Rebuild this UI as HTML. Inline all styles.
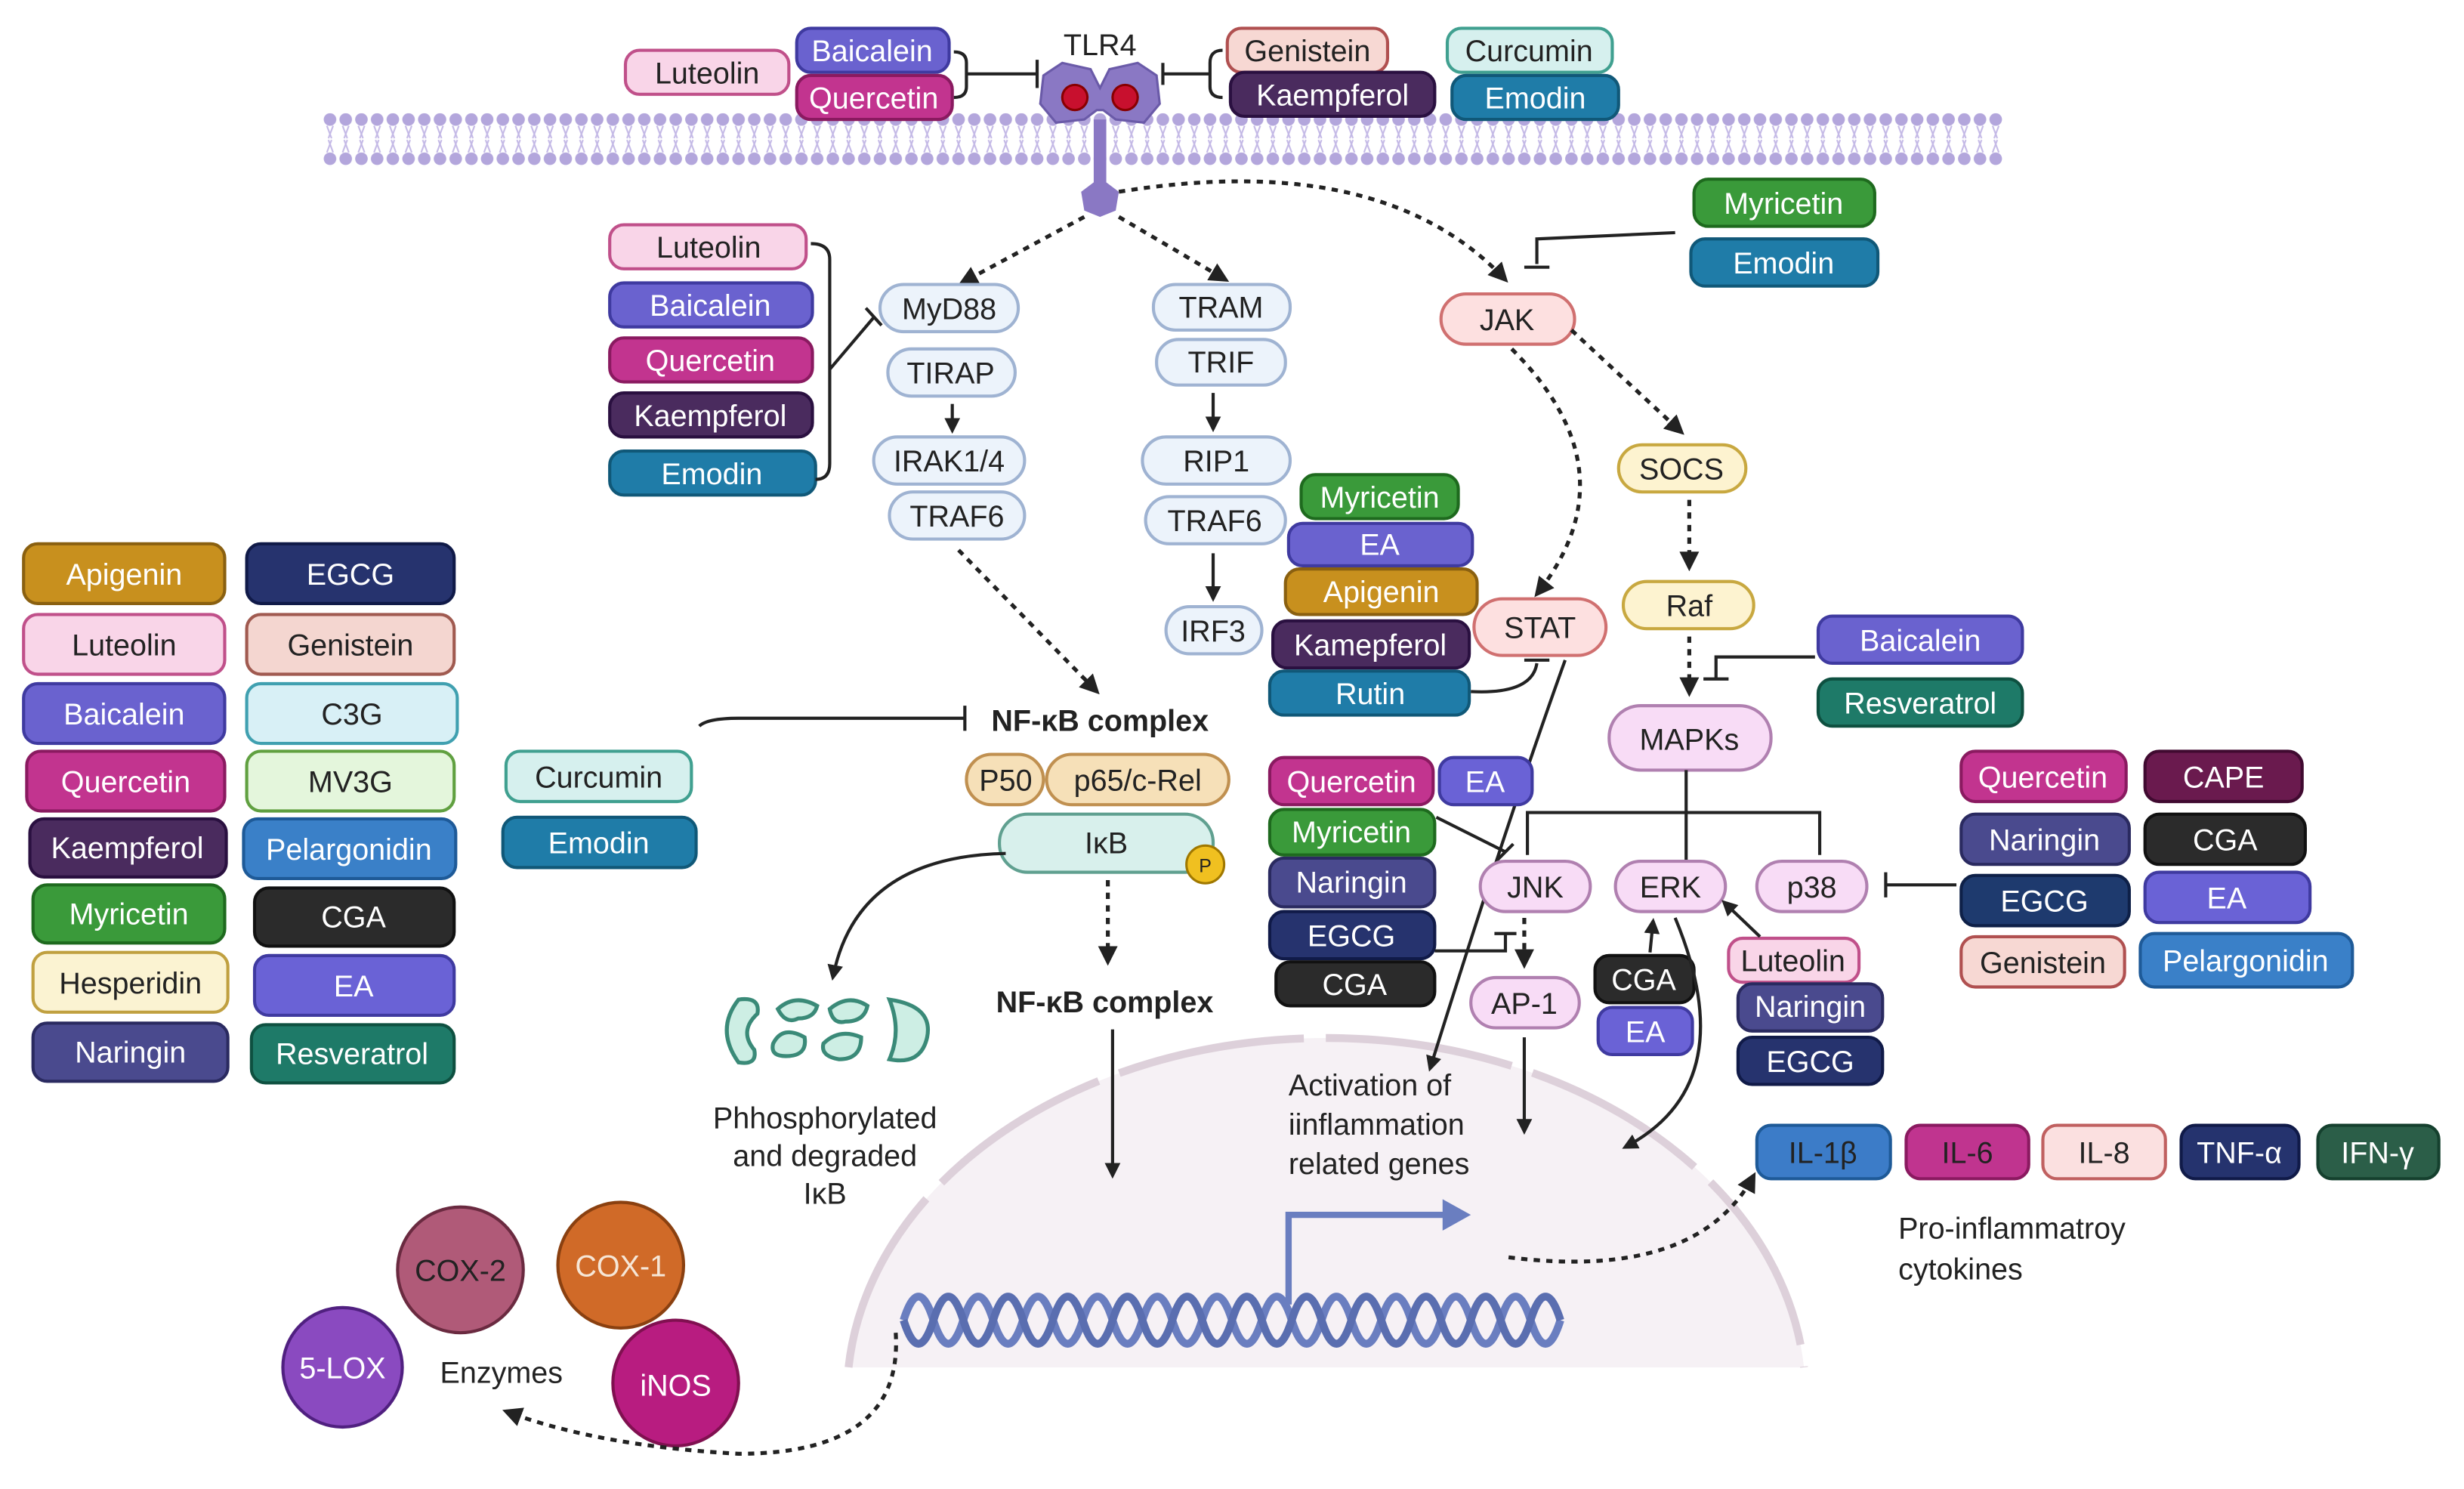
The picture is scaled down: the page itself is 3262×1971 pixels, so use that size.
<!DOCTYPE html>
<html><head><meta charset="utf-8"><style>
html,body{margin:0;padding:0;background:#fff;}
svg{display:block;}
text{font-family:"Liberation Sans",sans-serif;text-anchor:middle;}
.w{fill:#fff;font-size:19px;}
.d{fill:#222;font-size:19px;}
.t{fill:#222;font-size:19px;text-anchor:start;}
.ln{stroke:#222;stroke-width:2;fill:none;}
.ds{stroke:#222;stroke-width:2.5;fill:none;stroke-dasharray:4 4;}
</style></head><body>
<svg width="3262" height="1971" viewBox="0 0 1568 947.4" xmlns="http://www.w3.org/2000/svg">
<defs>
<marker id="ah" viewBox="0 0 10 10" refX="8" refY="5" markerWidth="5" markerHeight="5" orient="auto"><path d="M0 0L10 5L0 10z" fill="#222"/></marker>
<pattern id="mem" x="205" y="72" width="10" height="34" patternUnits="userSpaceOnUse">
<circle cx="5" cy="4" r="4" fill="#b3a6dc"/><circle cx="5" cy="29" r="4" fill="#b3a6dc"/>
<path d="M3 8L6 16M7 8L4 16M3 25L6 17M7 25L4 17" stroke="#c4b9e6" stroke-width="1"/>
</pattern>
</defs>
<rect width="1568" height="947.4" fill="#fff"/>

<!-- nucleus -->
<path d="M540 870 A305 228 0 0 1 1148 870 Z" fill="#f6f1f5"/>
<path d="M540 870 A305 228 0 0 1 1148 870" fill="none" stroke="#ddd0da" stroke-width="5" stroke-dasharray="120 14"/>

<!-- membrane -->
<rect x="205" y="72" width="1070" height="34" fill="url(#mem)"/>

<!-- TLR4 receptor -->
<text x="700" y="35" class="d" style="font-size:19px">TLR4</text>
<path d="M664 48 L676 40 L694 44 L700 56 L706 44 L724 40 L736 48 L738 66 L728 78 L710 76 L702 70 L698 70 L690 76 L672 78 L662 66 Z" fill="#8a78c4" stroke="#6a5aa8" stroke-width="1.5"/>
<circle cx="684" cy="62" r="8" fill="#c8102e" stroke="#800" stroke-width="1.5"/>
<circle cx="716" cy="62" r="8" fill="#c8102e" stroke="#800" stroke-width="1.5"/>
<rect x="696" y="76" width="8" height="44" fill="#8a78c4"/>
<path d="M688 122 L696 116 L704 116 L712 122 L710 134 L700 138 L690 134 Z" fill="#8a78c4"/>

<!-- top inhibitors -->
<rect x="398" y="32" width="104" height="28" rx="9" fill="#f9d5e8" stroke="#c0508a" stroke-width="2"/><text x="450" y="53" class="d">Luteolin</text>
<rect x="507" y="18" width="97" height="28" rx="9" fill="#6a62cf" stroke="#3f3aa0" stroke-width="2"/><text x="555" y="39" class="w">Baicalein</text>
<rect x="507" y="48" width="99" height="28" rx="9" fill="#c2348f" stroke="#8a1a60" stroke-width="2"/><text x="556" y="69" class="w">Quercetin</text>
<path class="ln" d="M607 33 Q615 33 615 40 L615 55 Q615 62 607 62 M615 47 L660 47 M660 38 L660 56"/>
<path class="ln" d="M740 40 L740 54 M740 47 L770 47 M778 32 Q770 32 770 40 L770 55 Q770 62 778 62"/>
<rect x="781" y="18" width="102" height="28" rx="9" fill="#f7d8d3" stroke="#b05050" stroke-width="2"/><text x="832" y="39" class="d">Genistein</text>
<rect x="783" y="46" width="130" height="28" rx="9" fill="#4a2b5e" stroke="#2a1040" stroke-width="2"/><text x="848" y="67" class="w">Kaempferol</text>
<rect x="921" y="18" width="105" height="28" rx="9" fill="#d6f0ee" stroke="#40a090" stroke-width="2"/><text x="973" y="39" class="d">Curcumin</text>
<rect x="924" y="48" width="106" height="28" rx="9" fill="#1f7ca8" stroke="#105878" stroke-width="2"/><text x="977" y="69" class="w">Emodin</text>

<!-- dashed from receptor -->
<path class="ds" d="M690 138 L612 180" marker-end="url(#ah)"/>
<path class="ds" d="M712 138 L780 178" marker-end="url(#ah)"/>
<path class="ds" d="M712 122 Q880 95 958 178" marker-end="url(#ah)"/>

<!-- MyD88 inhibitors -->
<rect x="388" y="143" width="125" height="28" rx="9" fill="#f9d5e8" stroke="#c0508a" stroke-width="2"/><text x="451" y="164" class="d">Luteolin</text>
<rect x="388" y="180" width="129" height="28" rx="9" fill="#6a62cf" stroke="#3f3aa0" stroke-width="2"/><text x="452" y="201" class="w">Baicalein</text>
<rect x="388" y="215" width="129" height="28" rx="9" fill="#c2348f" stroke="#8a1a60" stroke-width="2"/><text x="452" y="236" class="w">Quercetin</text>
<rect x="388" y="250" width="129" height="28" rx="9" fill="#4a2b5e" stroke="#2a1040" stroke-width="2"/><text x="452" y="271" class="w">Kaempferol</text>
<rect x="388" y="287" width="131" height="28" rx="9" fill="#1f7ca8" stroke="#105878" stroke-width="2"/><text x="453" y="308" class="w">Emodin</text>
<path class="ln" d="M516 155 Q528 155 528 165 L528 295 Q528 305 519 305 M528 235 L556 202 M551 196 L561 207"/>

<!-- MyD88 chain -->
<g fill="#ecf3fb" stroke="#9fb3d2" stroke-width="2">
<rect x="560" y="181" width="88" height="30" rx="15"/><rect x="565" y="222" width="81" height="30" rx="15"/>
<rect x="556" y="278" width="96" height="30" rx="15"/><rect x="566" y="313" width="86" height="30" rx="15"/>
<rect x="734" y="181" width="87" height="29" rx="14"/><rect x="736" y="216" width="82" height="29" rx="14"/>
<rect x="727" y="278" width="94" height="30" rx="15"/><rect x="729" y="316" width="89" height="30" rx="15"/>
<rect x="742" y="386" width="61" height="30" rx="15"/>
</g>
<text x="604" y="203" class="d">MyD88</text><text x="605" y="244" class="d">TIRAP</text>
<text x="604" y="300" class="d">IRAK1/4</text><text x="609" y="335" class="d">TRAF6</text>
<text x="777" y="202" class="d">TRAM</text><text x="777" y="237" class="d">TRIF</text>
<text x="774" y="300" class="d">RIP1</text><text x="773" y="338" class="d">TRAF6</text>
<text x="772" y="408" class="d">IRF3</text>
<path class="ln" d="M606 257 L606 274" marker-end="url(#ah)"/>
<path class="ln" d="M772 250 L772 273" marker-end="url(#ah)"/>
<path class="ln" d="M772 352 L772 381" marker-end="url(#ah)"/>
<path class="ds" d="M610 350 L698 440" marker-end="url(#ah)"/>

<!-- JAK branch -->
<rect x="1078" y="114" width="115" height="30" rx="9" fill="#3a9a3a" stroke="#1e6a1e" stroke-width="2"/><text x="1135" y="136" class="w">Myricetin</text>
<rect x="1076" y="152" width="119" height="30" rx="9" fill="#1f7ca8" stroke="#105878" stroke-width="2"/><text x="1135" y="174" class="w">Emodin</text>
<path class="ln" d="M1066 148 L978 152 L978 168 M970 170 L986 170"/>
<rect x="917" y="187" width="85" height="32" rx="16" fill="#fde0e0" stroke="#d07070" stroke-width="2"/><text x="959" y="210" class="d">JAK</text>
<path class="ds" d="M1000 210 L1070 275" marker-end="url(#ah)"/>
<rect x="1030" y="283" width="81" height="30" rx="15" fill="#fdf3d0" stroke="#c8a840" stroke-width="2"/><text x="1070" y="305" class="d">SOCS</text>
<path class="ds" d="M1075 318 L1075 361" marker-end="url(#ah)"/>
<rect x="1033" y="370" width="83" height="30" rx="15" fill="#fdf3d0" stroke="#c8a840" stroke-width="2"/><text x="1075" y="392" class="d">Raf</text>
<path class="ds" d="M1075 405 L1075 441" marker-end="url(#ah)"/>
<rect x="1157" y="392" width="130" height="30" rx="9" fill="#6a62cf" stroke="#3f3aa0" stroke-width="2"/><text x="1222" y="414" class="w">Baicalein</text>
<rect x="1157" y="432" width="130" height="30" rx="9" fill="#1e7a68" stroke="#0e5040" stroke-width="2"/><text x="1222" y="454" class="w">Resveratrol</text>
<path class="ln" d="M1155 418 L1092 418 L1092 432 M1084 432 L1100 432"/>
<rect x="1024" y="449" width="103" height="41" rx="20" fill="#f8dcf6" stroke="#b080b0" stroke-width="2"/><text x="1075" y="477" class="d">MAPKs</text>

<!-- JAK->STAT -->
<path class="ds" d="M962 222 Q1040 300 978 378" marker-end="url(#ah)"/>
<rect x="828" y="302" width="100" height="28" rx="9" fill="#3a9a3a" stroke="#1e6a1e" stroke-width="2"/><text x="878" y="323" class="w">Myricetin</text>
<rect x="820" y="333" width="117" height="27" rx="9" fill="#6a62cf" stroke="#3f3aa0" stroke-width="2"/><text x="878" y="353" class="w">EA</text>
<rect x="818" y="362" width="122" height="29" rx="9" fill="#c8901e" stroke="#8a6010" stroke-width="2"/><text x="879" y="383" class="w">Apigenin</text>
<rect x="810" y="395" width="125" height="30" rx="9" fill="#4a2b5e" stroke="#2a1040" stroke-width="2"/><text x="872" y="417" class="w">Kamepferol</text>
<rect x="808" y="427" width="127" height="28" rx="9" fill="#1f7ca8" stroke="#105878" stroke-width="2"/><text x="872" y="448" class="w">Rutin</text>
<rect x="938" y="381" width="84" height="36" rx="18" fill="#fde0e0" stroke="#d07070" stroke-width="2"/><text x="980" y="406" class="d">STAT</text>
<path class="ln" d="M936 440 Q975 442 978 422 M970 420 L986 420"/>
<path d="M996 420 Q960 520 910 680" stroke="#222" stroke-width="2" fill="none" marker-end="url(#ah)"/>

<!-- NF-kB -->
<text x="700" y="465" style="font-size:19px;font-weight:bold;fill:#222">NF-κB complex</text>
<path class="ln" d="M445 462 Q450 457 470 457 L614 457 M614 449 L614 465"/>
<rect x="322" y="478" width="118" height="32" rx="9" fill="#d6f0ee" stroke="#40a090" stroke-width="2"/><text x="381" y="501" class="d">Curcumin</text>
<rect x="320" y="520" width="123" height="32" rx="9" fill="#1f7ca8" stroke="#105878" stroke-width="2"/><text x="381" y="543" class="w">Emodin</text>
<rect x="615" y="480" width="49" height="32" rx="16" fill="#f6e0b8" stroke="#c09050" stroke-width="2"/><text x="640" y="503" class="d">P50</text>
<rect x="666" y="480" width="116" height="32" rx="16" fill="#f6e0b8" stroke="#c09050" stroke-width="2"/><text x="724" y="503" class="d">p65/c-Rel</text>
<rect x="636" y="518" width="136" height="37" rx="18" fill="#d8f0ec" stroke="#60a090" stroke-width="2"/><text x="704" y="543" class="d">IκB</text>
<circle cx="767" cy="550" r="12" fill="#f0c020" stroke="#a07800" stroke-width="1.5"/><text x="767" y="555" style="font-size:12px;fill:#222">P</text>
<path class="ds" d="M705 560 L705 612" marker-end="url(#ah)"/>
<text x="703" y="644" style="font-size:19px;font-weight:bold;fill:#222">NF-κB complex</text>
<path class="ln" d="M708 655 L708 748" marker-end="url(#ah)"/>
<path class="ln" d="M640 543 Q545 545 530 622" marker-end="url(#ah)"/>
<g fill="#cdeee4" stroke="#3a8a78" stroke-width="2.5">
<path d="M470 636 Q455 655 470 676 Q482 678 480 668 Q470 656 482 645 Q484 634 470 636 Z"/>
<path d="M495 642 Q506 632 520 640 Q518 648 508 648 Q500 652 495 642 Z M492 664 Q498 652 512 660 Q514 672 500 672 Q490 672 492 664 Z"/>
<path d="M528 642 Q540 632 552 640 Q550 650 538 650 Q530 652 528 642 Z M524 664 Q534 654 548 660 Q548 674 534 674 Q522 672 524 664 Z"/>
<path d="M566 636 Q594 640 590 660 Q586 678 566 674 Q574 656 566 636 Z"/>
</g>
<text x="525" y="718" class="d">Phhosphorylated</text>
<text x="525" y="742" class="d">and degraded</text>
<text x="525" y="766" class="d">IκB</text>

<!-- legend -->
<g stroke-width="2">
<rect x="15" y="346" width="128" height="38" rx="9" fill="#c8901e" stroke="#8a6010"/>
<rect x="15" y="391" width="128" height="38" rx="9" fill="#f9d5e8" stroke="#c0508a"/>
<rect x="15" y="435" width="128" height="38" rx="9" fill="#6a62cf" stroke="#3f3aa0"/>
<rect x="17" y="478" width="126" height="38" rx="9" fill="#c2348f" stroke="#8a1a60"/>
<rect x="19" y="521" width="125" height="37" rx="9" fill="#4a2b5e" stroke="#2a1040"/>
<rect x="21" y="563" width="122" height="37" rx="9" fill="#3a9a3a" stroke="#1e6a1e"/>
<rect x="21" y="606" width="124" height="38" rx="9" fill="#fbf3d2" stroke="#c0a040"/>
<rect x="21" y="651" width="124" height="37" rx="9" fill="#4a4a8e" stroke="#2a2a60"/>
<rect x="157" y="346" width="132" height="38" rx="9" fill="#26336e" stroke="#101a48"/>
<rect x="157" y="391" width="132" height="38" rx="9" fill="#f4d6d0" stroke="#a05a50"/>
<rect x="157" y="435" width="134" height="38" rx="9" fill="#d8f0f6" stroke="#40a0b0"/>
<rect x="157" y="478" width="132" height="38" rx="9" fill="#e4f6dc" stroke="#60a040"/>
<rect x="155" y="521" width="135" height="38" rx="9" fill="#3a80c8" stroke="#1e5a98"/>
<rect x="162" y="565" width="127" height="37" rx="9" fill="#2b2b2b" stroke="#111"/>
<rect x="162" y="608" width="127" height="38" rx="9" fill="#6a62d6" stroke="#3f3aa0"/>
<rect x="160" y="652" width="129" height="37" rx="9" fill="#1e7a68" stroke="#0e5040"/>
</g>
<text x="79" y="372" class="w">Apigenin</text><text x="79" y="417" class="d">Luteolin</text>
<text x="79" y="461" class="w">Baicalein</text><text x="80" y="504" class="w">Quercetin</text>
<text x="81" y="546" class="w">Kaempferol</text><text x="82" y="588" class="w">Myricetin</text>
<text x="83" y="632" class="d">Hesperidin</text><text x="83" y="676" class="w">Naringin</text>
<text x="223" y="372" class="w">EGCG</text><text x="223" y="417" class="d">Genistein</text>
<text x="224" y="461" class="d">C3G</text><text x="223" y="504" class="d">MV3G</text>
<text x="222" y="547" class="w">Pelargonidin</text><text x="225" y="590" class="w">CGA</text>
<text x="225" y="634" class="w">EA</text><text x="224" y="677" class="w">Resveratrol</text>

<!-- MAPK area -->
<g stroke-width="2">
<rect x="808" y="482" width="104" height="30" rx="9" fill="#c2348f" stroke="#8a1a60"/>
<rect x="916" y="482" width="59" height="30" rx="9" fill="#6a62d6" stroke="#3f3aa0"/>
<rect x="808" y="515" width="105" height="29" rx="9" fill="#3a9a3a" stroke="#1e6a1e"/>
<rect x="808" y="546" width="105" height="31" rx="9" fill="#4a4a8e" stroke="#2a2a60"/>
<rect x="808" y="580" width="105" height="30" rx="9" fill="#26336e" stroke="#101a48"/>
<rect x="812" y="612" width="101" height="28" rx="9" fill="#2b2b2b" stroke="#111"/>
</g>
<text x="860" y="504" class="w">Quercetin</text><text x="945" y="504" class="w">EA</text>
<text x="860" y="536" class="w">Myricetin</text><text x="860" y="568" class="w">Naringin</text>
<text x="860" y="602" class="w">EGCG</text><text x="862" y="633" class="w">CGA</text>
<path class="ln" d="M972 544 L972 517 L1158 517 L1158 544 M1073 490 L1073 548"/>
<g fill="#f8dcf6" stroke="#b080b0" stroke-width="2">
<rect x="942" y="548" width="70" height="32" rx="16"/><rect x="1028" y="548" width="70" height="32" rx="16"/>
<rect x="1118" y="548" width="70" height="32" rx="16"/><rect x="936" y="622" width="69" height="32" rx="16"/>
</g>
<text x="977" y="571" class="d">JNK</text><text x="1063" y="571" class="d">ERK</text>
<text x="1153" y="571" class="d">p38</text><text x="970" y="645" class="d">AP-1</text>
<path class="ln" d="M914 520 L958 542 M953 547 L963 537"/>
<path class="ln" d="M913 605 L958 605 L958 594 M951 594 L965 594"/>
<path class="ds" d="M970 584 L970 614" marker-end="url(#ah)"/>
<path class="ln" d="M970 660 L970 720" marker-end="url(#ah)"/>
<rect x="1015" y="608" width="63" height="30" rx="9" fill="#2b2b2b" stroke="#111" stroke-width="2"/><text x="1046" y="630" class="w">CGA</text>
<rect x="1017" y="641" width="60" height="30" rx="9" fill="#6a62d6" stroke="#3f3aa0" stroke-width="2"/><text x="1047" y="663" class="w">EA</text>
<path class="ln" d="M1050 606 L1052 586" marker-end="url(#ah)"/>
<rect x="1100" y="597" width="83" height="28" rx="9" fill="#f9d5e8" stroke="#c0508a" stroke-width="2"/><text x="1141" y="618" class="d">Luteolin</text>
<rect x="1106" y="626" width="92" height="30" rx="9" fill="#4a4a8e" stroke="#2a2a60" stroke-width="2"/><text x="1152" y="647" class="w">Naringin</text>
<rect x="1106" y="660" width="92" height="30" rx="9" fill="#26336e" stroke="#101a48" stroke-width="2"/><text x="1152" y="682" class="w">EGCG</text>
<path class="ln" d="M1120 596 L1097 574" marker-end="url(#ah)"/>
<path class="ln" d="M1066 584 Q1110 690 1034 730" marker-end="url(#ah)"/>
<path class="ln" d="M1245 563 L1200 563 M1200 555 L1200 571"/>
<g stroke-width="2">
<rect x="1248" y="478" width="105" height="32" rx="9" fill="#c2348f" stroke="#8a1a60"/>
<rect x="1365" y="478" width="100" height="32" rx="9" fill="#6a1a4e" stroke="#400a30"/>
<rect x="1248" y="518" width="107" height="32" rx="9" fill="#4a4a8e" stroke="#2a2a60"/>
<rect x="1365" y="518" width="102" height="32" rx="9" fill="#2b2b2b" stroke="#111"/>
<rect x="1248" y="557" width="107" height="32" rx="9" fill="#1e3a6e" stroke="#0e2048"/>
<rect x="1365" y="555" width="105" height="32" rx="9" fill="#6a62d6" stroke="#3f3aa0"/>
<rect x="1248" y="596" width="104" height="32" rx="9" fill="#f7d8d3" stroke="#b05050"/>
<rect x="1362" y="594" width="135" height="34" rx="9" fill="#3a80c8" stroke="#1e5a98"/>
</g>
<text x="1300" y="501" class="w">Quercetin</text><text x="1415" y="501" class="w">CAPE</text>
<text x="1301" y="541" class="w">Naringin</text><text x="1416" y="541" class="w">CGA</text>
<text x="1301" y="580" class="w">EGCG</text><text x="1417" y="578" class="w">EA</text>
<text x="1300" y="619" class="d">Genistein</text><text x="1429" y="618" class="w">Pelargonidin</text>

<!-- nucleus content -->
<text x="820" y="697" class="t">Activation of</text>
<text x="820" y="722" class="t">iinflammation</text>
<text x="820" y="747" class="t">related genes</text>
<path d="M820 830 L820 773 L920 773" stroke="#6a7ec0" stroke-width="4" fill="none"/>
<path d="M918 763 L936 773 L918 783 Z" fill="#6a7ec0"/>
<path d="M575 840 q9.5 -30 19 0 t19 0 t19 0 t19 0 t19 0 t19 0 t19 0 t19 0 t19 0 t19 0 t19 0 t19 0 t19 0 t19 0 t19 0 t19 0 t19 0 t19 0 t19 0 t19 0 t19 0 t19 0" stroke="#6a7ec0" stroke-width="5" fill="none"/>
<path d="M575 840 q9.5 30 19 0 t19 0 t19 0 t19 0 t19 0 t19 0 t19 0 t19 0 t19 0 t19 0 t19 0 t19 0 t19 0 t19 0 t19 0 t19 0 t19 0 t19 0 t19 0 t19 0 t19 0 t19 0" stroke="#5a6eb0" stroke-width="5" fill="none"/>
<path class="ds" d="M960 800 Q1080 815 1116 748" marker-end="url(#ah)"/>

<!-- cytokines -->
<g stroke-width="2">
<rect x="1118" y="716" width="85" height="34" rx="9" fill="#3c7cc8" stroke="#1e5a98"/>
<rect x="1213" y="716" width="78" height="34" rx="9" fill="#c0348f" stroke="#8a1a60"/>
<rect x="1300" y="716" width="78" height="34" rx="9" fill="#fbe0e0" stroke="#c06060"/>
<rect x="1388" y="716" width="75" height="34" rx="9" fill="#25336e" stroke="#101a48"/>
<rect x="1475" y="716" width="77" height="34" rx="9" fill="#2b5e48" stroke="#15402e"/>
</g>
<text x="1160" y="740" class="d">IL-1β</text><text x="1252" y="740" class="d">IL-6</text>
<text x="1339" y="740" class="d">IL-8</text><text x="1425" y="740" class="w">TNF-α</text>
<text x="1513" y="740" class="w">IFN-γ</text>
<text x="1208" y="788" class="t">Pro-inflammatroy</text>
<text x="1208" y="814" class="t">cytokines</text>

<!-- enzymes -->
<circle cx="293" cy="808" r="40" fill="#b05a78" stroke="#6a2a40" stroke-width="2"/><text x="293" y="815" class="d">COX-2</text>
<circle cx="395" cy="805" r="40" fill="#d06a28" stroke="#8a4010" stroke-width="2"/><text x="395" y="812" class="w" style="fill:#f6e6d6">COX-1</text>
<circle cx="218" cy="870" r="38" fill="#8a4ac0" stroke="#502080" stroke-width="2"/><text x="218" y="877" class="w">5-LOX</text>
<circle cx="430" cy="880" r="40" fill="#b81c80" stroke="#801050" stroke-width="2"/><text x="430" y="888" class="w">iNOS</text>
<text x="280" y="880" class="t">Enzymes</text>
<path class="ds" d="M570 848 Q575 925 470 925 Q380 920 322 898" marker-end="url(#ah)"/>
</svg>
</body></html>
